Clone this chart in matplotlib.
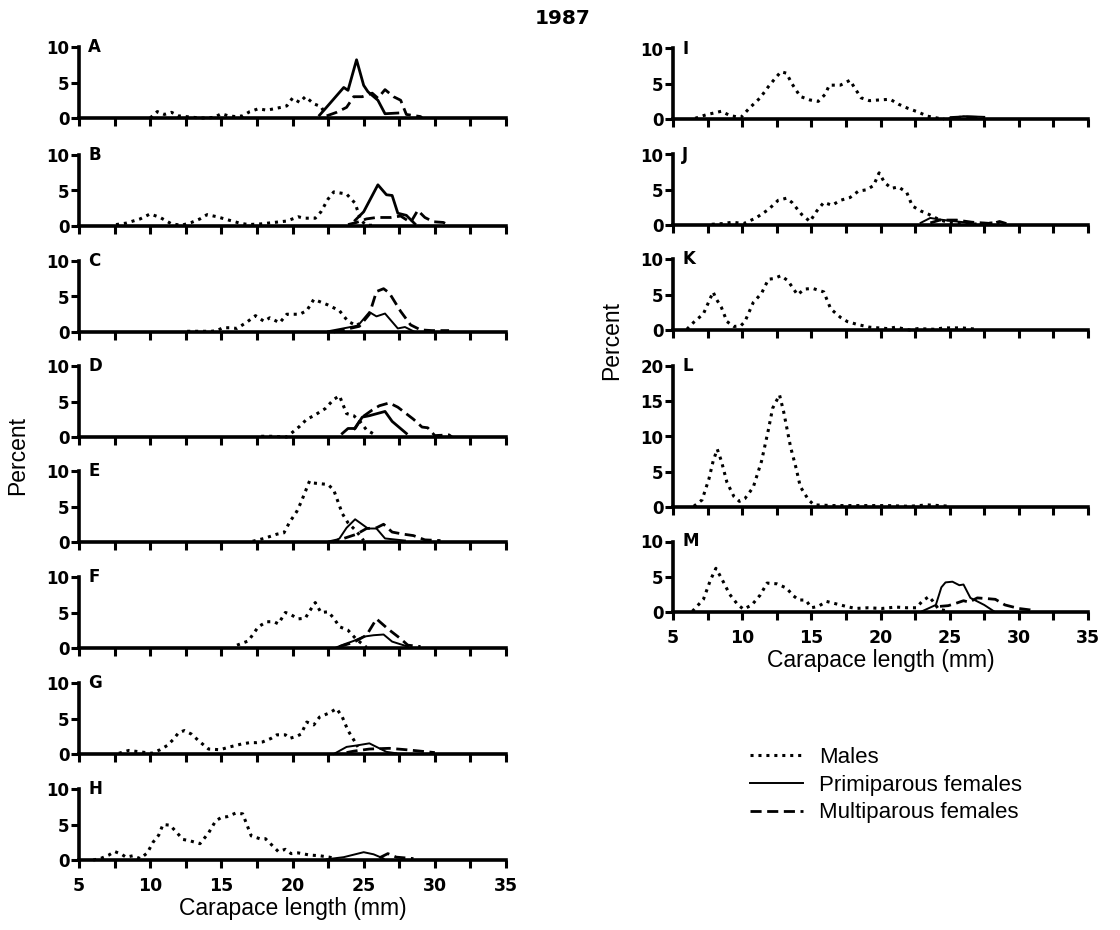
import matplotlib
matplotlib.use('Agg')
import matplotlib.pyplot as plt
import numpy as np

plt.rcParams['font.family'] = ['Liberation Sans', 'DejaVu Sans']

# percent by carapace length (mm); each series is a list of (length, percent)
A_m = [(10.0, 0), (10.5, 0.9), (11.0, 0.5), (11.5, 0.8), (12.0, 0.3), (12.5, 0.2), (13.0, 0.1), (13.5, 0), (14.0, 0),
       (14.5, 0.1), (15.0, 0.6), (15.5, 0.3), (16.0, 0.2), (16.5, 0.3), (17.0, 0.9), (17.6, 1.3), (18.2, 1.1),
       (18.7, 1.3), (19.2, 1.5), (19.6, 1.7), (20.0, 2.8), (20.5, 2.2), (20.9, 3.0), (21.5, 2.0), (22.0, 1.6), (22.3, 0.6)]
A_p = [(21.9, 0.4), (22.3, 1.3), (23.6, 4.3), (23.9, 3.9), (24.5, 8.2), (25.0, 4.6), (25.3, 3.7), (26.0, 2.5),
       (26.5, 0.6), (27.4, 0.7)]
A_f = [(22.4, 0.3), (23.1, 0.8), (23.8, 1.5), (24.3, 3.0), (24.9, 3.0), (25.6, 3.5), (26.0, 2.8), (26.5, 4.0),
       (27.1, 3.0), (27.6, 2.5), (28.0, 0.5), (29.0, 0.2), (29.1, 0)]

B_m = [(7.6, 0.2), (8.3, 0.4), (9.3, 1.0), (10.0, 1.7), (10.7, 1.2), (11.5, 0.3), (12.2, 0.1), (12.9, 0.5), (13.5, 1.0),
       (14.0, 1.6), (14.7, 1.3), (15.4, 0.9), (16.3, 0.4), (16.9, 0.2), (17.8, 0.3), (18.7, 0.5), (19.6, 0.7),
       (20.4, 1.3), (20.8, 1.1), (21.6, 1.1), (22.0, 2.0), (22.5, 3.8), (22.9, 4.8), (23.8, 4.5), (24.4, 3.2),
       (24.8, 0.8), (25.2, 0.1), (25.9, 0.1)]
B_p = [(24.4, 0.8), (25.0, 2.0), (26.0, 5.8), (26.6, 4.4), (27.0, 4.3), (27.4, 1.8), (28.0, 1.5), (28.6, 0.3)]
B_f = [(23.9, 0.2), (24.5, 0.5), (25.2, 1.0), (25.9, 1.2), (26.9, 1.2), (27.6, 1.4), (28.3, 0.5), (28.8, 2.2),
       (29.3, 1.2), (29.9, 0.6), (30.6, 0.5), (31.0, 0.1)]

C_m = [(12.6, 0.1), (13.5, 0.1), (14.3, 0.1), (14.7, 0.2), (15.1, 0.6), (15.6, 0.6), (16.1, 0.5), (16.8, 1.4),
       (17.4, 2.3), (18.0, 1.5), (18.4, 2.0), (19.1, 1.3), (19.6, 2.5), (20.5, 2.5), (21.0, 3.0), (21.5, 4.6),
       (22.5, 3.8), (23.3, 3.0), (23.9, 1.5), (24.5, 0.9), (24.7, 1.2)]
C_p = [(22.5, 0.1), (24.6, 0.9), (25.4, 2.8), (25.9, 2.2), (26.5, 2.6), (27.4, 0.5), (27.9, 0.7), (28.5, 0.1)]
C_f = [(22.9, 0), (24.7, 0.8), (25.4, 2.5), (25.9, 5.7), (26.4, 6.1), (26.8, 5.5), (27.6, 2.9), (28.3, 1.0),
       (29.0, 0.3), (29.8, 0.2), (31.0, 0.2)]

D_m = [(17.8, 0.1), (18.5, 0.1), (19.6, 0), (20.5, 1.5), (21.0, 2.5), (21.5, 3.0), (22.3, 4.0), (22.9, 5.3),
       (23.3, 5.8), (23.8, 3.3), (24.3, 3.0), (24.7, 2.3), (25.2, 1.0), (25.9, 0.2)]
D_p = [(23.5, 0.5), (23.9, 1.2), (24.4, 1.2), (24.9, 2.8), (25.4, 3.0), (26.5, 3.6), (27.0, 2.2), (28.0, 0.5)]
D_f = [(24.3, 1.0), (24.9, 2.8), (25.6, 3.8), (26.1, 4.4), (26.8, 4.8), (27.4, 4.2), (28.5, 2.5), (29.1, 1.4),
       (29.5, 1.3), (30.0, 0.2), (31.0, 0.3), (31.2, 0)]

E_m = [(17.2, 0.1), (18.0, 0.5), (18.9, 1.1), (19.4, 1.3), (19.8, 2.8), (20.3, 4.3), (20.6, 5.6), (21.2, 8.6),
       (21.5, 8.3), (22.5, 8.1), (22.9, 7.3), (23.5, 4.0), (23.9, 2.7), (24.5, 1.5), (25.0, 0.2)]
E_p = [(22.9, 0), (23.3, 0.5), (23.8, 2.0), (24.4, 3.2), (25.3, 1.9), (25.9, 1.9), (26.5, 0.5), (27.9, 0.2)]
E_f = [(22.5, 0), (23.6, 0.5), (24.5, 1.1), (25.2, 1.9), (25.9, 2.0), (26.4, 2.5), (27.0, 1.4), (27.8, 1.1),
       (28.5, 0.9), (29.3, 0.3), (30.4, 0.2)]

F_m = [(16.1, 0.4), (16.9, 1.0), (17.6, 3.0), (18.2, 3.7), (18.7, 3.7), (19.0, 3.4), (19.5, 5.0), (19.8, 4.8),
       (20.4, 4.1), (20.9, 4.2), (21.2, 5.2), (21.6, 6.4), (22.0, 5.0), (22.5, 5.1), (22.9, 4.2), (23.3, 3.0),
       (23.9, 2.5), (24.5, 1.2), (25.2, 0.1)]
F_p = [(23.1, 0.1), (23.6, 0.5), (24.3, 1.0), (25.0, 1.6), (25.7, 1.8), (26.4, 1.9), (27.0, 0.9), (28.1, 0.2)]
F_f = [(23.3, 0.2), (24.3, 0.8), (25.2, 1.8), (25.9, 4.1), (26.7, 2.7), (27.6, 1.3), (28.1, 0.4), (29.0, 0.2)]

G_m = [(7.8, 0.1), (8.5, 0.5), (9.3, 0.3), (10.1, 0.1), (10.7, 0.6), (11.2, 1.2), (11.6, 2.0), (12.0, 3.0),
       (12.4, 3.3), (12.9, 2.8), (13.5, 1.7), (14.1, 0.7), (14.9, 0.6), (15.6, 1.0), (16.4, 1.4), (17.0, 1.6),
       (17.5, 1.6), (17.9, 1.7), (18.5, 2.2), (18.9, 2.7), (19.5, 2.7), (19.8, 2.2), (20.3, 2.5), (20.6, 2.8),
       (21.0, 4.5), (21.5, 4.1), (21.9, 5.2), (22.6, 5.8), (23.1, 6.4), (23.5, 5.2), (23.9, 3.3), (24.3, 2.0),
       (24.6, 1.0)]
G_p = [(22.9, 0), (23.8, 1.0), (24.5, 1.2), (25.4, 1.5), (26.6, 0.3), (27.3, 0.1)]
G_f = [(23.8, 0.2), (24.3, 0.4), (25.4, 0.7), (26.8, 0.8), (28.0, 0.6), (29.0, 0.4), (30.0, 0.2)]

H_m = [(6.0, 0), (6.5, 0.2), (7.1, 0.7), (7.5, 1.2), (8.0, 0.8), (8.3, 0.4), (8.8, 0.6), (9.3, 0.2), (9.8, 1.0),
       (10.2, 2.5), (10.6, 3.5), (10.9, 5.0), (11.4, 4.9), (11.9, 3.8), (12.3, 2.9), (12.8, 2.7), (13.5, 2.3),
       (14.1, 3.8), (14.6, 5.5), (15.0, 6.0), (15.4, 6.1), (16.0, 6.6), (16.5, 6.5), (17.1, 3.4), (17.7, 3.0),
       (18.1, 3.0), (18.5, 2.2), (19.0, 1.2), (19.5, 1.5), (19.9, 0.9), (20.4, 1.0), (21.2, 0.7), (21.9, 0.6),
       (22.6, 0.4), (23.1, 0.1)]
H_p = [(22.4, 0.1), (23.6, 0.4), (25.0, 1.1), (25.7, 0.8), (26.4, 0.2)]
H_f = [(26.1, 0.3), (26.7, 0.9), (27.3, 0.4), (28.5, 0.2)]

I_m = [(6.6, 0.1), (7.4, 0.6), (8.5, 1.1), (9.1, 0.5), (9.9, 0.2), (10.5, 1.5), (11.3, 3.0), (11.9, 4.6), (12.4, 5.8),
       (12.8, 6.7), (13.2, 6.5), (13.6, 5.0), (14.2, 3.2), (14.9, 2.7), (15.5, 2.5), (16.0, 3.5), (16.3, 4.8),
       (17.1, 4.8), (17.8, 5.5), (18.1, 4.5), (18.6, 3.0), (19.2, 2.6), (19.9, 2.7), (20.7, 2.8), (21.3, 2.1),
       (22.0, 1.5), (22.7, 1.0), (23.4, 0.4), (24.2, 0.1), (24.6, 0)]
I_p = [(25.0, 0.1), (26.0, 0.4), (27.5, 0.3)]
I_f = [(25.0, 0.2), (26.0, 0.3), (27.5, 0.2)]

J_m = [(7.8, 0.1), (8.6, 0.2), (9.3, 0.4), (10.1, 0.2), (11.0, 1.0), (11.9, 2.2), (12.6, 3.5), (13.2, 3.8),
       (13.6, 3.2), (14.3, 1.5), (14.9, 0.5), (15.4, 2.0), (15.9, 3.2), (16.5, 2.8), (17.1, 3.5), (17.8, 3.9),
       (18.4, 4.8), (19.0, 5.0), (19.5, 5.6), (19.9, 7.4), (20.3, 6.0), (20.8, 5.2), (21.3, 5.4), (21.9, 4.6),
       (22.3, 2.7), (22.9, 2.0), (23.5, 1.5), (24.2, 0.8), (25.0, 0.3), (26.5, 0.1), (28.2, 0.3), (28.6, 0.1)]
J_p = [(22.9, 0.3), (23.6, 1.0), (24.2, 0.8), (25.0, 0.6), (26.0, 0.4), (26.6, 0.2)]
J_f = [(23.6, 0.3), (24.3, 0.7), (25.5, 0.7), (26.6, 0.4), (28.1, 0.2), (28.6, 0.5), (29.1, 0.2)]

K_m = [(6.0, 0.1), (6.5, 1.1), (7.2, 2.3), (7.9, 5.4), (8.1, 4.5), (8.5, 3.2), (8.9, 1.2), (9.4, 0.5), (9.9, 0.6),
       (10.2, 1.2), (10.8, 3.9), (11.4, 5.2), (11.9, 7.2), (12.3, 7.3), (12.8, 7.7), (13.3, 7.0), (14.0, 5.0),
       (14.5, 5.8), (15.1, 5.9), (15.9, 5.4), (16.4, 3.0), (17.1, 1.8), (17.6, 1.2), (18.3, 0.8), (19.2, 0.4),
       (20.5, 0.2), (21.1, 0.4), (22.1, 0), (22.7, 0.2), (23.9, 0.1), (24.6, 0.3), (25.9, 0.3), (27.0, 0.1)]

L_m = [(6.5, 0.1), (7.1, 1.0), (7.6, 4.0), (7.9, 6.5), (8.2, 8.2), (8.5, 6.5), (8.9, 3.5), (9.4, 1.5), (9.8, 0.8),
       (10.2, 1.2), (10.8, 2.8), (11.4, 6.5), (11.9, 11.0), (12.2, 14.0), (12.7, 15.9), (13.0, 13.5), (13.5, 8.5),
       (13.9, 5.5), (14.2, 2.9), (14.8, 1.0), (15.2, 0.3), (16.6, 0.2), (20.5, 0.2), (22.1, 0.1), (23.4, 0.3),
       (25.1, 0.1)]

M_m = [(6.4, 0.1), (7.2, 1.8), (7.7, 4.5), (8.1, 6.2), (8.5, 4.8), (9.1, 2.5), (9.7, 1.0), (10.1, 0.4), (10.7, 1.0),
       (11.3, 2.4), (11.8, 4.1), (12.5, 4.0), (13.2, 3.4), (13.7, 2.3), (14.1, 1.7), (14.6, 1.7), (15.0, 0.6),
       (15.5, 0.8), (16.1, 1.5), (16.7, 1.2), (17.5, 0.8), (18.2, 0.5), (19.1, 0.6), (20.1, 0.5), (21.1, 0.7),
       (21.9, 0.6), (22.6, 0.6), (23.0, 1.5), (23.5, 2.2), (23.8, 1.5), (24.2, 0.4), (24.7, 0.2)]
M_p = [(23.0, 0.1), (24.0, 1.0), (24.4, 3.5), (24.7, 4.2), (25.2, 4.3), (25.7, 3.8), (26.0, 3.9), (26.5, 2.0),
       (27.5, 1.0), (28.2, 0.1)]
M_f = [(24.3, 0.8), (24.9, 0.9), (25.4, 1.2), (26.0, 1.6), (26.4, 1.4), (27.0, 2.0), (27.7, 1.9), (28.3, 1.8),
       (29.0, 1.0), (30.0, 0.5), (30.8, 0.3), (31.1, 0.1)]

left_panels = ['A', 'B', 'C', 'D', 'E', 'F', 'G', 'H']
right_panels = ['I', 'J', 'K', 'L', 'M']
series = {
    'A': (A_m, A_p, A_f), 'B': (B_m, B_p, B_f), 'C': (C_m, C_p, C_f), 'D': (D_m, D_p, D_f),
    'E': (E_m, E_p, E_f), 'F': (F_m, F_p, F_f), 'G': (G_m, G_p, G_f), 'H': (H_m, H_p, H_f),
    'I': (I_m, I_p, I_f), 'J': (J_m, J_p, J_f), 'K': (K_m, None, None), 'L': (L_m, None, None),
    'M': (M_m, M_p, M_f),
}
labels = ['Males', 'Primiparous females', 'Multiparous females']

W, H = 1120, 930
fig = plt.figure(figsize=(W / 100, H / 100), dpi=100)

# zero-line pixel rows of each panel
left_zero = [118, 226, 332, 437, 542, 648, 754, 860]
right_zero = [119, 225, 330, 507, 612]
thick = {'A': 2.0, 'B': 2.0, 'D': 2.0}

styles = [dict(ls=(0, (1, 1.6)), lw=2.2), dict(ls='-'), dict(ls=(0, (4, 2)), lw=2.0)]
bold_font = ['DejaVu Sans']


def make_axes(x0, x1, y0, y1):
    return fig.add_axes([x0 / W, 1 - y0 / H, (x1 - x0) / W, (y0 - y1) / H])


def draw(ax, key, ymax, bottom):
    handles = []
    for s, st in zip(series[key], styles):
        if s is None:
            continue
        x, y = zip(*s)
        kw = dict(st)
        if kw['ls'] == '-':
            kw['lw'] = thick.get(key, 1.4)
        h, = ax.plot(x, y, color='black', clip_on=False, **kw)
        handles.append(h)
    ax.set_xlim(5, 35)
    ax.set_ylim(0, ymax)
    for sp in ['top', 'right']:
        ax.spines[sp].set_visible(False)
    for sp in ['left', 'bottom']:
        ax.spines[sp].set_linewidth(2.6)
    ax.set_xticks(np.arange(5, 36, 5))
    ax.set_xticks(np.arange(7.5, 35, 5), minor=True)
    ax.set_yticks(np.arange(0, ymax + 1, 5))
    ax.tick_params(which='both', direction='out', length=6, width=2.2)
    ax.tick_params(axis='y', labelsize=12, pad=1)
    ax.tick_params(axis='x', labelsize=12.5, pad=6, labelbottom=bottom)
    for t in ax.get_xticklabels() + ax.get_yticklabels():
        t.set_fontweight('bold')
        t.set_family(bold_font)
    ax.text(0.022, 1.0, key, transform=ax.transAxes, fontsize=12, fontweight='bold', family=bold_font,
            va='center', ha='left')
    return handles


for i, key in enumerate(left_panels):
    z = left_zero[i]
    ax = make_axes(79, 506, z, z - 71)
    draw(ax, key, 10, i == len(left_panels) - 1)
    if key == 'H':
        ax.set_xlabel('Carapace length (mm)', fontsize=16.5, labelpad=2)

leg_handles = None
for i, key in enumerate(right_panels):
    z = right_zero[i]
    ymax = 20 if key == 'L' else 10
    ax = make_axes(673, 1088, z, z - 7.05 * ymax)
    hs = draw(ax, key, ymax, key == 'M')
    if key == 'M':
        ax.set_xlabel('Carapace length (mm)', fontsize=16.5, labelpad=2)
        leg_handles = hs

fig.text(18 / W, 1 - 455 / H, 'Percent', rotation=90, fontsize=16.5, ha='center', va='center')
fig.text(612 / W, 1 - 340 / H, 'Percent', rotation=90, fontsize=16.5, ha='center', va='center')
fig.text(563 / W, 1 - 18 / H, '1987', fontsize=14.5, fontweight='bold', family=bold_font,
         ha='center', va='center')

fig.legend(leg_handles, labels, loc='upper left', bbox_to_anchor=(730 / W, 1 - 727 / H), frameon=False,
           fontsize=16, handlelength=2.4, handletextpad=0.7, labelspacing=0.3)

plt.savefig('out.png', dpi=100)
